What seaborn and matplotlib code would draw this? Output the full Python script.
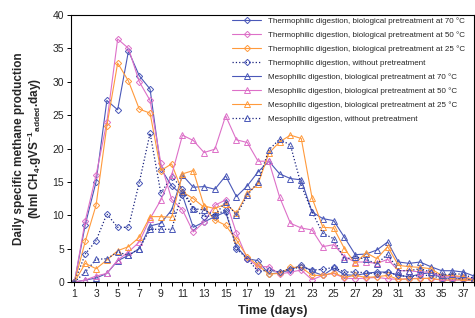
import matplotlib
matplotlib.use("Agg")
import matplotlib.pyplot as plt
import seaborn as sns

# Data
days = list(range(1, 39))

thermo_70 = [0, 8.6, 15.0, 27.2, 25.8, 34.6, 30.9, 28.9, 17.0, 14.4, 13.0, 8.2, 9.0, 9.8, 10.5, 5.3,
             3.5, 3.2, 1.2, 1.4, 1.8, 2.6, 1.6, 1.0, 2.1, 1.1, 1.0, 1.3, 1.5, 1.5, 1.0, 0.8, 1.2, 1.4,
             0.6, 0.6, 0.6, 0.3]
thermo_50 = [0, 9.2, 16.0, 24.0, 36.4, 35.0, 30.0, 27.2, 17.8, 12.4, 10.8, 7.5, 9.0, 11.5, 12.3, 7.3,
             3.5, 2.3, 2.3, 1.2, 1.5, 1.8, 0.35, 1.0, 1.3, 0.6, 0.5, 0.6, 0.7, 0.5, 0.4, 0.5, 0.6, 0.5,
             0.3, 0.3, 0.3, 0.2]
thermo_25 = [0, 6.1, 11.5, 23.4, 32.8, 30.1, 25.9, 25.3, 16.7, 17.7, 13.5, 12.5, 11.2, 9.3, 8.5, 6.3,
             3.8, 2.5, 1.2, 1.3, 2.2, 2.2, 1.0, 1.0, 1.4, 0.7, 1.0, 0.7, 0.8, 1.0, 0.4, 0.5, 0.5, 0.6,
             0.3, 0.3, 0.4, 0.2]
thermo_raw = [0, 4.2, 6.2, 10.2, 8.2, 8.2, 14.9, 22.3, 13.3, 15.8, 14.0, 11.0, 9.8, 10.0, 10.8, 5.0,
              3.5, 1.6, 1.8, 1.5, 2.0, 2.2, 1.8, 1.9, 2.2, 1.5, 1.5, 1.4, 1.2, 1.5, 1.0, 0.8, 1.0, 1.0,
              0.5, 0.5, 0.5, 0.3]
meso_70 = [0, 0.3, 0.6, 1.3, 3.2, 4.0, 5.0, 8.4, 8.8, 10.8, 16.0, 14.2, 14.3, 13.9, 15.9, 12.8,
           14.4, 16.5, 18.1, 16.2, 15.5, 15.3, 10.5, 9.5, 9.2, 6.7, 4.1, 4.2, 4.8, 6.0, 3.0, 2.8, 3.0,
           2.3, 1.7, 1.7, 1.5, 0.9]
meso_50 = [0, 0.3, 0.9, 1.3, 3.3, 4.5, 6.0, 9.5, 12.3, 16.0, 22.0, 21.2, 19.4, 19.9, 24.9, 21.3,
           20.9, 18.1, 18.1, 12.7, 8.8, 8.1, 7.8, 5.3, 5.6, 3.8, 3.0, 3.0, 2.8, 3.4, 1.7, 1.7, 1.5,
           1.5, 0.8, 0.8, 0.8, 0.4]
meso_25 = [0, 2.8, 2.0, 3.3, 4.7, 5.3, 6.7, 9.8, 9.8, 9.7, 16.2, 16.7, 11.4, 11.0, 11.7, 10.3,
           13.3, 14.7, 19.3, 21.0, 22.0, 21.5, 12.6, 8.2, 8.1, 5.0, 2.8, 4.4, 3.5, 5.3, 2.5, 2.3, 2.2,
           2.0, 1.0, 1.0, 0.8, 0.3]
meso_raw = [0, 1.5, 3.4, 3.5, 4.5, 4.0, 5.0, 7.9, 7.9, 7.9, 13.5, 11.0, 10.8, 10.0, 12.0, 10.0,
            13.0, 15.0, 19.8, 21.4, 20.5, 14.5, 10.5, 7.3, 6.5, 3.4, 3.8, 3.4, 2.7, 4.2, 1.7, 1.7,
            2.0, 1.5, 1.0, 1.2, 1.2, 0.5]

labels = [
    "Thermophilic digestion, biological pretreatment at 70 °C",
    "Thermophilic digestion, biological pretreatment at 50 °C",
    "Thermophilic digestion, biological pretreatment at 25 °C",
    "Thermophilic digestion, without pretreatment",
    "Mesophilic digestion, biological pretreatment at 70 °C",
    "Mesophilic digestion, biological pretreatment at 50 °C",
    "Mesophilic digestion, biological pretreatment at 25 °C",
    "Mesophilic digestion, without pretreatment",
]
series = [thermo_70, thermo_50, thermo_25, thermo_raw, meso_70, meso_50, meso_25, meso_raw]

blue = "#4a58b8"
pink = "#dd70c8"
orange = "#ff9a3c"
navy = "#1a237e"
line_colors = [blue, pink, orange, navy, blue, pink, orange, navy]
marker_colors = [blue, pink, orange, blue, blue, pink, orange, blue]
markers = ["D", "D", "D", "D", "^", "^", "^", "^"]
styles = ["-", "-", "-", ":", "-", "-", "-", ":"]

sns.set_style("ticks")
plt.rcParams["font.family"] = ["Liberation Sans", "DejaVu Sans"]
plt.rcParams["mathtext.fontset"] = "custom"
plt.rcParams["mathtext.rm"] = "Liberation Sans:bold"
plt.rcParams["mathtext.it"] = "Liberation Sans:bold"
plt.rcParams["mathtext.bf"] = "Liberation Sans:bold"

fig = plt.figure(figsize=(4.75, 3.18), dpi=100)
ax = fig.add_axes([0.1495, 0.113, 0.8485, 0.84])

for vals, lab, lc, mc, mk, ls in zip(series, labels, line_colors, marker_colors, markers, styles):
    sns.lineplot(x=days, y=vals, ax=ax, color=lc, linestyle=ls,
                 linewidth=0.9 if ls == ":" else 0.8,
                 marker=mk, markersize=3.2 if mk == "D" else 4.2,
                 markerfacecolor="none", markeredgecolor=mc, markeredgewidth=0.7,
                 label=lab)

ax.set_xlim(0.68, 37.95)
ax.set_ylim(0, 40)
ax.set_yticks(range(0, 41, 5))
ax.set_xticks(days)
ax.set_xticklabels([str(d) if d % 2 == 1 else "" for d in days])
ax.tick_params(axis="both", labelsize=7.5, length=3, width=0.7, pad=2, color="black")
for sp in ax.spines.values():
    sp.set_linewidth(0.8)
    sp.set_color("black")

ax.set_xlabel("Time (days)", fontsize=9, fontweight="bold", labelpad=4)
ax.set_ylabel("Daily specific methane production\n"
              r"(Nml CH$_4$.gVS$^{-1}$$_{added}$.day)",
              fontsize=8.5, fontweight="bold", labelpad=6, linespacing=1.1)

ax.legend(loc="upper left", bbox_to_anchor=(0.40, 0.99), frameon=False,
          fontsize=5.8, handlelength=3.6, handletextpad=0.8, labelspacing=0.78,
          borderpad=0, borderaxespad=0)

fig.savefig("out.png", dpi=100)
